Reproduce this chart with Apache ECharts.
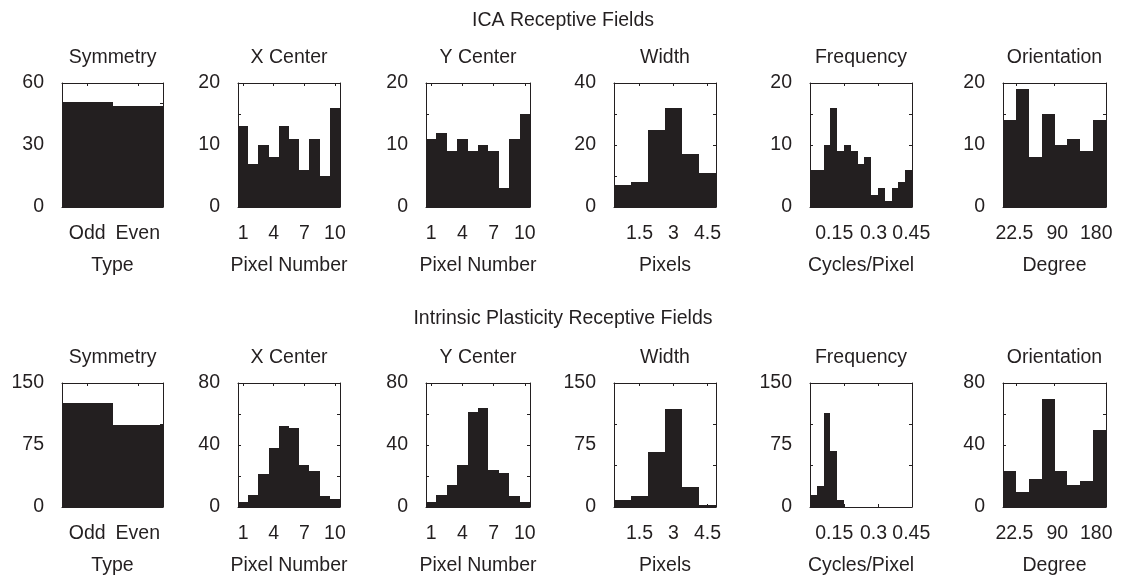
<!DOCTYPE html>
<html><head><meta charset="utf-8">
<script src="https://cdn.jsdelivr.net/npm/echarts@6/dist/echarts.min.js"></script>
<style>html,body{margin:0;padding:0;background:#fff}#c{width:1121px;height:575px}</style>
</head><body><div id="c"></div><script>
// ---------- data ----------
const symmetryTypes = ['Odd', 'Even'];
const pixelNumbers = [1, 2, 3, 4, 5, 6, 7, 8, 9, 10];
const widthBins = [0.75, 1.5, 2.25, 3, 3.75, 4.5];
const freqBins = [0.015, 0.045, 0.075, 0.105, 0.135, 0.165, 0.195, 0.225, 0.255, 0.285, 0.315, 0.345, 0.375, 0.405, 0.435];
const orientBins = [11.25, 33.75, 56.25, 78.75, 101.25, 123.75, 146.25, 168.75];

const icaSymmetry = [51, 49];
const icaXCenter = [13, 7, 10, 8, 13, 11, 6, 11, 5, 16];
const icaYCenter = [11, 12, 9, 11, 9, 10, 9, 3, 11, 15];
const icaWidth = [7, 8, 25, 32, 17, 11];
const icaFrequency = [6, 6, 10, 16, 9, 10, 9, 7, 8, 2, 3, 1, 3, 4, 6];
const icaOrientation = [14, 19, 8, 15, 10, 11, 9, 14];

const ipSymmetry = [126, 99];
const ipXCenter = [3, 8, 21, 38, 52, 51, 27, 23, 7, 5];
const ipYCenter = [3, 8, 14, 27, 61, 64, 24, 22, 7, 3];
const ipWidth = [9, 13, 67, 118, 24, 2];
const ipFrequency = [14, 25, 114, 68, 9, 0, 0, 0, 0, 0, 0, 0, 0, 0, 0];
const ipOrientation = [23, 10, 18, 70, 23, 14, 17, 50];

const pixelTickLabels = ['1', '4', '7', '10'];
const widthTickLabels = ['1.5', '3', '4.5'];
const freqTickLabels = ['0.15', '0.3', '0.45'];
const orientTickLabels = ['22.5', '90', '180'];

const icaYTickLabels = [[0, 30, 60], [0, 10, 20], [0, 10, 20], [0, 20, 40], [0, 10, 20], [0, 10, 20]];
const ipYTickLabels = [[0, 75, 150], [0, 40, 80], [0, 40, 80], [0, 75, 150], [0, 75, 150], [0, 40, 80]];

const panelTitles = ['Symmetry', 'X Center', 'Y Center', 'Width', 'Frequency', 'Orientation'];
const axisNames = ['Type', 'Pixel Number', 'Pixel Number', 'Pixels', 'Cycles/Pixel', 'Degree'];
const rowTitles = ['ICA Receptive Fields', 'Intrinsic Plasticity Receptive Fields'];

// ---------- layout ----------
const FONT = "'Liberation Sans', Arial, Helvetica, sans-serif";
const FS = 19.5;
const INK = '#231f20';
const boxLeft = [62, 238, 426, 614, 810, 1003];
const boxWidth = [101, 102, 104, 102, 102, 103];
const rowTop = [83, 383];
const boxHeight = 124;
const titleY = [21, 319];

const panelX = [
  { bins: symmetryTypes.map((_, i) => i), labels: symmetryTypes, anchors: [0, 1], ticks: [0, 1], range: [-0.5, 1.5] },
  { bins: pixelNumbers, labels: pixelTickLabels, anchors: pixelTickLabels.map(Number), ticks: pixelTickLabels.map(Number), range: [0.5, 10.5] },
  { bins: pixelNumbers, labels: pixelTickLabels, anchors: pixelTickLabels.map(Number), ticks: pixelTickLabels.map(Number), range: [0.5, 10.5] },
  { bins: widthBins, labels: widthTickLabels, anchors: widthTickLabels.map(Number), ticks: widthTickLabels.map(Number), range: [0.375, 4.875] },
  { bins: freqBins, labels: freqTickLabels, anchors: [0.107, 0.28, 0.447], ticks: [0.15, 0.3, 0.45], range: [0, 0.45] },
  { bins: orientBins, labels: orientTickLabels, anchors: [20, 95, 163], ticks: [22.5, 90, 180], range: [0, 180] }
];

const rows = [
  { data: [icaSymmetry, icaXCenter, icaYCenter, icaWidth, icaFrequency, icaOrientation], yLabels: icaYTickLabels, yStep: [10, 5, 5, 10, 5, 5] },
  { data: [ipSymmetry, ipXCenter, ipYCenter, ipWidth, ipFrequency, ipOrientation], yLabels: ipYTickLabels, yStep: [50, 20, 20, 50, 50, 20] }
];

const grid = [], xAxis = [], yAxis = [], series = [];
const lineStyle = { color: INK, width: 1 };
const textBase = { color: INK, fontSize: FS, fontFamily: FONT };

rows.forEach((row, r) => {
  panelX.forEach((px, p) => {
    const g = grid.length;
    grid.push({ left: boxLeft[p], top: rowTop[r], width: boxWidth[p], height: boxHeight, outerBoundsMode: 'none', containLabel: false });
    const yMax = row.yLabels[p][row.yLabels[p].length - 1];
    const yTicks = [];
    for (let v = 0; v <= yMax + 1e-9; v += row.yStep[p]) yTicks.push(v);
    const fmt = (val) => {
      for (let i = 0; i < px.anchors.length; i++) if (Math.abs(px.anchors[i] - val) < 1e-6) return px.labels[i];
      return '';
    };
    xAxis.push({
      type: 'value', gridIndex: g, position: 'bottom', min: px.range[0], max: px.range[1],
      axisLine: { show: true, lineStyle }, splitLine: { show: false },
      axisTick: { show: true, inside: true, length: 3, customValues: px.ticks, lineStyle },
      axisLabel: { show: true, customValues: px.anchors, formatter: fmt, margin: 17, ...textBase },
      name: axisNames[p], nameLocation: 'middle', nameGap: 49, nameTextStyle: { ...textBase }
    });
    xAxis.push({
      type: 'value', gridIndex: g, position: 'top', min: px.range[0], max: px.range[1],
      axisLine: { show: true, onZero: false, lineStyle }, splitLine: { show: false },
      axisTick: { show: true, inside: true, length: 3, customValues: px.ticks, lineStyle },
      axisLabel: { show: false },
      name: panelTitles[p], nameLocation: 'middle', nameGap: 15, nameTextStyle: { ...textBase }
    });
    yAxis.push({
      type: 'value', gridIndex: g, position: 'left', min: 0, max: yMax,
      axisLine: { show: true, onZero: false, lineStyle }, splitLine: { show: false },
      axisTick: { show: true, inside: true, length: 3, customValues: yTicks, lineStyle },
      axisLabel: { show: true, customValues: row.yLabels[p], margin: 18, ...textBase }
    });
    yAxis.push({
      type: 'value', gridIndex: g, position: 'right', min: 0, max: yMax,
      axisLine: { show: true, onZero: false, lineStyle }, splitLine: { show: false },
      axisTick: { show: true, inside: true, length: 3, customValues: yTicks, lineStyle },
      axisLabel: { show: false }
    });
    const half = (px.bins[1] - px.bins[0]) / 2;
    series.push({
      type: 'custom', xAxisIndex: 2 * g, yAxisIndex: 2 * g, silent: true,
      encode: { x: 0, y: 1 },
      renderItem: (params, api) => {
        const c = api.value(0), v = api.value(1);
        if (!v) return null;
        const p0 = api.coord([c - half, 0]);
        const p1 = api.coord([c + half, v]);
        const x0 = Math.round(p0[0]), x1 = Math.round(p1[0]);
        const yb = Math.round(p0[1]), yt = Math.round(p1[1]);
        return { type: 'rect', shape: { x: x0, y: yt, width: x1 - x0, height: yb - yt }, style: { fill: INK } };
      },
      data: px.bins.map((b, i) => [b, row.data[p][i]])
    });
  });
});

const graphic = rowTitles.map((t, r) => ({
  type: 'text', x: 563, y: titleY[r], silent: true,
  style: { text: t, fill: INK, font: FS + 'px ' + FONT, align: 'center', verticalAlign: 'middle', textAlign: 'center', textVerticalAlign: 'middle' }
}));

const chart = echarts.init(document.getElementById('c'), null, { renderer: 'canvas' });
chart.setOption({ animation: false, backgroundColor: '#fff', grid, xAxis, yAxis, series, graphic });
</script></body></html>
